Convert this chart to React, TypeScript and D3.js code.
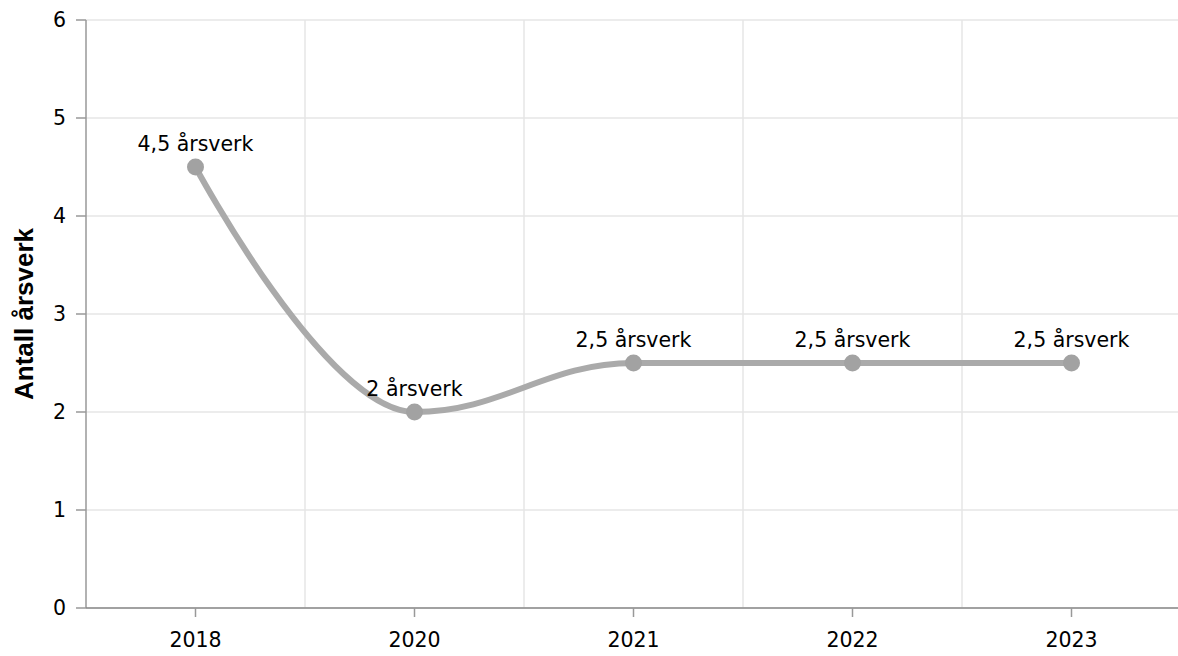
import React from "react";
import * as d3 from "d3";

const categories = ["2018", "2020", "2021", "2022", "2023"];
const values = [4.5, 2, 2.5, 2.5, 2.5];
const labels = ["4,5 årsverk", "2 årsverk", "2,5 årsverk", "2,5 årsverk", "2,5 årsverk"];
const yTicks = [0, 1, 2, 3, 4, 5, 6];

const W = 1178;
const H = 656;
const left = 86;
const right = 1181;
const top = 20;
const bottom = 608;

// Highcharts-style spline through points
function splinePath(pts: [number, number][]) {
  const p = d3.path();
  const sm = 1.5;
  const den = sm + 1;
  const rc: ([number, number] | null)[] = pts.map(() => null);
  const lc: ([number, number] | null)[] = pts.map(() => null);
  for (let i = 1; i < pts.length - 1; i++) {
    const [lx, ly] = pts[i - 1];
    const [x, y] = pts[i];
    const [nx, ny] = pts[i + 1];
    const lcx = (sm * x + lx) / den;
    let lcy = (sm * y + ly) / den;
    const rcx = (sm * x + nx) / den;
    let rcy = (sm * y + ny) / den;
    if (rcx !== lcx) {
      const corr = ((rcy - lcy) * (rcx - x)) / (rcx - lcx) + y - rcy;
      lcy += corr;
      rcy += corr;
    }
    if (lcy > ly && lcy > y) {
      lcy = Math.max(ly, y);
      rcy = 2 * y - lcy;
    } else if (lcy < ly && lcy < y) {
      lcy = Math.min(ly, y);
      rcy = 2 * y - lcy;
    }
    if (rcy > ny && rcy > y) {
      rcy = Math.max(ny, y);
      lcy = 2 * y - rcy;
    } else if (rcy < ny && rcy < y) {
      rcy = Math.min(ny, y);
      lcy = 2 * y - rcy;
    }
    lc[i] = [lcx, lcy];
    rc[i] = [rcx, rcy];
  }
  p.moveTo(pts[0][0], pts[0][1]);
  for (let i = 1; i < pts.length; i++) {
    const a = rc[i - 1] || pts[i - 1];
    const b = lc[i] || pts[i];
    p.bezierCurveTo(a[0], a[1], b[0], b[1], pts[i][0], pts[i][1]);
  }
  return p.toString();
}

export default function App() {
  const x = d3.scaleBand<string>().domain(categories).range([left, right]).padding(0);
  const y = d3.scaleLinear().domain([0, 6]).range([bottom, top]);
  const cx = (c: string) => (x(c) as number) + x.bandwidth() / 2;
  const pts: [number, number][] = values.map((v, i) => [cx(categories[i]), y(v)]);
  const font = "'DejaVu Sans', Verdana, sans-serif";
  const bounds = categories.slice(1).map((c) => x(c) as number);
  return (
    <svg width={W} height={H} style={{ position: "absolute", left: 0, top: 0 }} fontFamily={font}>
      <rect x={0} y={0} width={W} height={H} fill="#fff" />
      {yTicks.map((t) => (
        <line key={"g" + t} x1={left} x2={right} y1={y(t)} y2={y(t)} stroke="#e6e6e6" strokeWidth={1.5} />
      ))}
      {bounds.map((b, i) => (
        <line key={"v" + i} x1={b} x2={b} y1={top} y2={bottom} stroke="#e6e6e6" strokeWidth={1.5} />
      ))}
      <line x1={left} x2={left} y1={top} y2={bottom} stroke="#999" strokeWidth={1.5} />
      {yTicks.map((t) => (
        <g key={"t" + t}>
          <line x1={left - 10} x2={left} y1={y(t)} y2={y(t)} stroke="#999" strokeWidth={1.5} />
          <text x={66} y={y(t)} dy="0.35em" textAnchor="end" fontSize={20.5} fill="#000">
            {t}
          </text>
        </g>
      ))}
      <line x1={left} x2={right} y1={bottom} y2={bottom} stroke="#888" strokeWidth={1.5} />
      {categories.map((c) => (
        <g key={"x" + c}>
          <line x1={cx(c)} x2={cx(c)} y1={bottom} y2={bottom + 9} stroke="#999" strokeWidth={1.5} />
          <text x={cx(c)} y={647} textAnchor="middle" fontSize={20.5} fill="#000">
            {c}
          </text>
        </g>
      ))}
      <text
        transform={`translate(33, ${(top + bottom) / 2}) rotate(-90)`}
        textAnchor="middle"
        fontSize={26}
        fontWeight="bold"
        fontFamily="'Liberation Sans', Arial, sans-serif"
        fill="#000"
      >
        Antall årsverk
      </text>
      <path d={splinePath(pts)} fill="none" stroke="#aaaaaa" strokeWidth={6} strokeLinecap="round" />
      {values.map((v, i) => (
        <circle key={"c" + i} cx={cx(categories[i])} cy={y(v)} r={8.5} fill="#a2a2a2" />
      ))}
      {values.map((v, i) => (
        <text key={"l" + i} x={cx(categories[i])} y={y(v) - 16} textAnchor="middle" fontSize={20.5} fill="#000">
          {labels[i]}
        </text>
      ))}
    </svg>
  );
}
